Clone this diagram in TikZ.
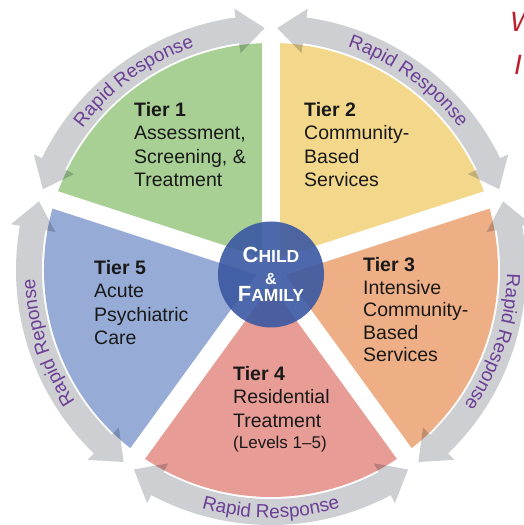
\documentclass[tikz,border=0pt]{standalone}
\usepackage{fontspec}
\setmainfont{Liberation Sans}
\usetikzlibrary{decorations.text}

\definecolor{tiergreen}{RGB}{168,208,148}
\definecolor{tieryellow}{RGB}{243,216,140}
\definecolor{tierorange}{RGB}{238,174,134}
\definecolor{tierpink}{RGB}{232,156,150}
\definecolor{tierblue}{RGB}{150,172,214}
\definecolor{familyblue}{RGB}{58,88,162}
\definecolor{bandgray}{RGB}{205,207,210}
\definecolor{rapidpurple}{RGB}{108,62,150}
\definecolor{titlered}{RGB}{192,32,45}

\tikzset{
  tiertext/.style={anchor=base west, align=left, inner sep=0pt, text=black!90,
    font=\fontsize{19.5}{23.5}\selectfont},
  rapid/.style={decorate, decoration={text along path, text align=center,
    text={|\fontsize{19}{19}\selectfont\color{rapidpurple}|#1}}},
  titlebit/.style={anchor=base west, inner sep=0pt, text=titlered,
    font=\itshape\fontsize{28}{28}\selectfont}
}

\begin{document}
\begin{tikzpicture}[x=1pt,y=1pt]
    \useasboundingbox (0,0) rectangle (524,525);
    \begin{scope}[shift={(271,255)}]
        % the five tiers
        \foreach \a/\b/\c in {90/162/tiergreen,18/90/tieryellow,-54/18/tierorange,-126/-54/tierpink,162/234/tierblue}
        \fill[\c] (0,0) -- (\a:227) arc[start angle=\a, end angle=\b, radius=227] -- cycle;
        \foreach \g in {90,18,-54,-126,162}
        \draw[white, line width=18] (0,0) -- (\g:232);
        % rapid response arrows
        \begin{scope}[blend mode=multiply]
        \foreach \a/\b in {90/162,18/90,-54/18,-126/-54,162/234}{
            \pgfmathsetmacro\ta{\a+1.5}
            \pgfmathsetmacro\ha{\a+8}
            \pgfmathsetmacro\tb{\b-1.5}
            \pgfmathsetmacro\hb{\b-8}
            \fill[bandgray] (\ta:242) -- (\ha:264) -- (\ha:255) arc[start angle=\ha, end angle=\hb, radius=255]
                -- (\hb:264) -- (\tb:242) -- (\hb:219) -- (\hb:229) arc[start angle=\hb, end angle=\ha, radius=229]
                -- (\ha:219) -- cycle;
        }
        \end{scope}
        \path[rapid=Rapid Response] (162:236) arc[start angle=162, end angle=90, radius=236];
        \path[rapid=Rapid Response] (90:236) arc[start angle=90, end angle=18, radius=236];
        \path[rapid=Rapid Response] (18:236) arc[start angle=18, end angle=-54, radius=236];
        \path[rapid=Rapid Response] (-126:248) arc[start angle=-126, end angle=-54, radius=248];
        \path[rapid=Rapid Reponse] (234:236) arc[start angle=234, end angle=162, radius=236];
    \end{scope}
    \node[circle, fill=familyblue, fill opacity=0.9, text opacity=1, minimum size=106, inner sep=0pt,
        text=white, align=center, font=\bfseries\fontsize{17.5}{19}\selectfont] (family) at (271,250.5)
        {{\fontsize{22}{19}\selectfont C}HILD\\[3pt]{\fontsize{16}{19}\selectfont\&}\\[-2pt]{\fontsize{22}{19}\selectfont F}AMILY};
    % last baselines
    \node[tiertext] (tier1) at (134,338) {\textbf{Tier 1}\\Assessment,\\Screening, \&\\Treatment};
    \node[tiertext] (tier2) at (304,338) {\textbf{Tier 2}\\Community-\\Based\\Services};
    \node[tiertext, font=\fontsize{19.5}{22.5}\selectfont] (tier3) at (363,163) {\textbf{Tier 3}\\Intensive\\Community-\\Based\\Services};
    \node[tiertext] (tier4) at (233,76) {\textbf{Tier 4}\\Residential\\Treatment\\[-2pt]{\fontsize{17}{22}\selectfont (Levels 1--5)}};
    \node[tiertext] (tier5) at (94,180) {\textbf{Tier 5}\\Acute\\Psychiatric\\Care};
    \node[titlebit] (titlew) at (510,493) {W};
    \node[titlebit] (titlei) at (514,450) {I};
\end{tikzpicture}
\end{document}
